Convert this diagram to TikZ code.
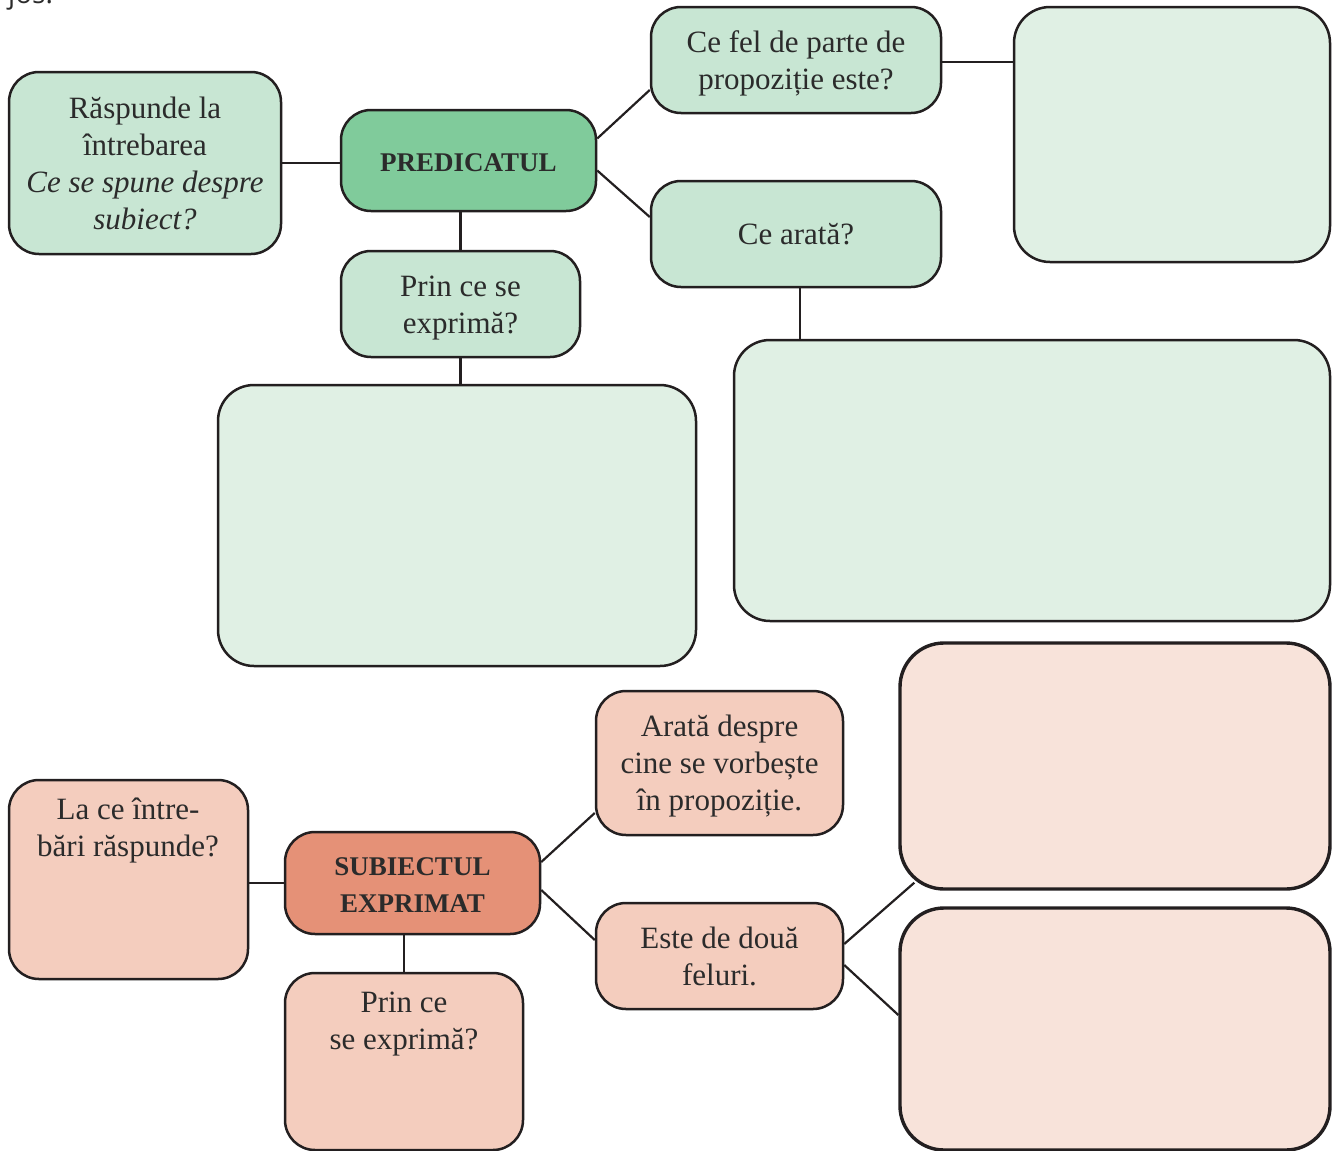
\documentclass[tikz,border=0pt]{standalone}
\usepackage{fontspec}
\setmainfont{Liberation Serif}
\newfontfamily\jossans{Open Sans}
\usetikzlibrary{calc}
\definecolor{strokec}{HTML}{231F20}
\definecolor{textc}{HTML}{2B2B2B}
\definecolor{greenl}{HTML}{C8E6D3}
\definecolor{greend}{HTML}{80CB9B}
\definecolor{greenp}{HTML}{E0F0E4}
\definecolor{salml}{HTML}{F4CDBE}
\definecolor{salmd}{HTML}{E59177}
\definecolor{salmp}{HTML}{F8E3DA}
\newcommand\strutT{\rule{0pt}{32pt}}
\newcommand\strutB{\rule[-11pt]{0pt}{11pt}}
\begin{document}
\begin{tikzpicture}[x=1pt,y=-1pt,
  box/.style={draw=strokec, line width=2.5pt, rounded corners=30pt, inner sep=0pt,
    align=center, text=textc, font=\fontsize{31}{37}\selectfont},
  gbox/.style={box, fill=greenl},
  gmain/.style={box, fill=greend, font=\fontsize{27}{37}\selectfont\bfseries},
  gempty/.style={box, fill=greenp, rounded corners=36pt},
  sbox/.style={box, fill=salml},
  smain/.style={box, fill=salmd, font=\fontsize{27}{37}\selectfont\bfseries},
  sempty/.style={box, fill=salmp, rounded corners=44pt, line width=3.4pt},
  txt/.style={inner sep=0pt, align=center, text=textc, font=\fontsize{31}{37}\selectfont},
  link/.style={draw=strokec, line width=2.2pt}]
\useasboundingbox (0,0) rectangle (1336,1151);

% top-left clipped text
\node[anchor=base west, inner sep=0pt, text=textc, font=\jossans\fontsize{28}{34}\selectfont] (jos) at (8,4) {jos.};

% ---------- PREDICATUL ----------
\node[gbox, minimum width=272pt, minimum height=182pt] (b1) at (145,163)
  {\strutT Răspunde la\\întrebarea\\\textit{Ce se spune despre}\\\textit{subiect?}\strutB};
\node[gmain, minimum width=255pt, minimum height=101pt] (pred) at (468.5,160.5) {\strutT PREDICATUL\strutB};
\node[gbox, minimum width=290pt, minimum height=106pt] (cefel) at (796,60)
  {\strutT Ce fel de parte de\\propoziție este?\strutB};
\node[gbox, minimum width=290pt, minimum height=106pt] (cearata) at (796,234) {\strutT Ce arată?\strutB};
\node[gempty, minimum width=316pt, minimum height=255pt] (tr) at (1172,134.5) {};
\node[gbox, minimum width=239pt, minimum height=106pt] (prin) at (460.5,304) {\strutT Prin ce se\\exprimă?\strutB};
\node[gempty, minimum width=478pt, minimum height=281pt] (el) at (457,525.5) {};
\node[gempty, minimum width=596pt, minimum height=281pt] (er) at (1032,480.5) {};

\draw[link] (b1.east) -- (b1.east -| pred.west);
\draw[link] ([yshift=22pt]pred.east) -- ([yshift=-30pt]cefel.west);
\draw[link] ([yshift=-10pt]pred.east) -- ([yshift=17pt]cearata.west);
\draw[link] (prin.north |- pred.south) -- (prin.north);
\draw[link] (prin.south) -- (prin.south |- el.north);
\draw[link] ([xshift=4pt]cearata.south) -- ([xshift=4pt]cearata.south |- er.north);
\draw[link] ([yshift=-2pt]cefel.east) -- ([yshift=-2pt]cefel.east -| tr.west);

% ---------- SUBIECTUL ----------
\node[sbox, minimum width=239pt, minimum height=199pt] (lace) at (128.5,879.5) {};
\node[txt] (lacet) at (128,827) {\strutT La ce între-\\bări răspunde?\strutB};
\node[smain, minimum width=255pt, minimum height=102pt] (subj) at (412.5,883) {\strutT SUBIECTUL\\EXPRIMAT\strutB};
\node[sbox, minimum width=238pt, minimum height=177pt] (prin2) at (404,1061.5) {};
\node[txt] (prin2t) at (404,1020) {\strutT Prin ce\\se exprimă?\strutB};
\node[sbox, minimum width=247pt, minimum height=144pt] (arata) at (719.5,763)
  {\strutT Arată despre\\cine se vorbește\\în propoziție.\strutB};
\node[sbox, minimum width=247pt, minimum height=106pt] (este) at (719.5,956) {\strutT Este de două\\feluri.\strutB};
\node[sempty, minimum width=430pt, minimum height=246pt] (s1) at (1115,766) {};
\node[sempty, minimum width=430pt, minimum height=242pt] (s2) at (1115,1029) {};

\draw[link] (subj.west -| lace.east) -- (subj.west);
\draw[link] ([yshift=21pt]subj.east) -- ([yshift=-50pt]arata.west);
\draw[link] ([yshift=-7pt]subj.east) -- ([yshift=16pt]arata.west |- este.west);
\draw[link] (prin2.north |- subj.south) -- (prin2.north);
\draw[link] ([yshift=12pt]este.east) -- ([shift={(16pt,8pt)}]s1.south west);
\draw[link] ([yshift=-9pt]este.east) -- ([yshift=14pt]s2.west);
\end{tikzpicture}
\end{document}
